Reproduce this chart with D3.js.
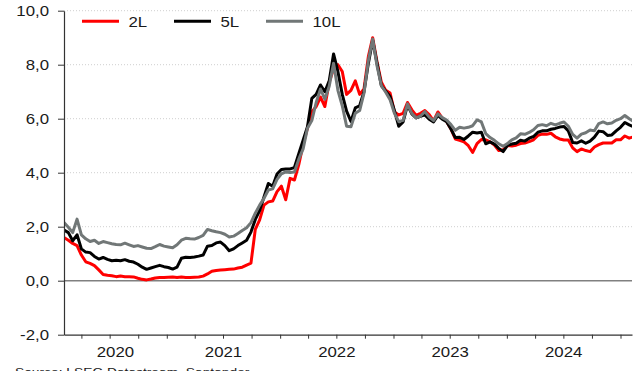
<!DOCTYPE html>
<html>
<head>
<meta charset="utf-8">
<script src="https://cdn.jsdelivr.net/npm/d3@7"></script>
<style>
  body { margin: 0; background: #ffffff; }
  svg { display: block; }
  text { font-family: "Liberation Sans", Arial, sans-serif; fill: #1a1a1a; }
</style>
</head>
<body>
<svg id="chart" width="637" height="371"></svg>
<script>
// Polish government bond yields (%), fortnightly observations
const seriesNames = ["2L", "5L", "10L"];
const seriesColors = ["#ff0000", "#000000", "#717777"];
const firstObs = new Date(2020, 1, 5);
const stepDays = 14;

const y2L = [
  1.60, 1.50, 1.38, 1.30, 0.95, 0.70, 0.64, 0.56, 0.40, 0.23,
  0.20, 0.18, 0.15, 0.17, 0.15, 0.15, 0.14, 0.09, 0.05, 0.03,
  0.06, 0.10, 0.12, 0.12, 0.13, 0.14, 0.12, 0.14, 0.12, 0.12,
  0.13, 0.14, 0.17, 0.25, 0.35, 0.38, 0.40, 0.41, 0.42, 0.43,
  0.47, 0.50, 0.58, 0.65, 1.90, 2.25, 2.80, 2.92, 2.95, 3.30,
  3.50, 3.00, 3.79, 3.73, 4.30, 5.05, 5.65, 6.25, 6.45, 6.80,
  6.45, 7.35, 7.85, 8.00, 7.75, 6.90, 7.05, 7.40, 6.90, 7.10,
  8.30, 9.00, 8.10, 7.35, 7.05, 6.95, 6.25, 6.14, 6.20, 6.60,
  6.33, 6.12, 6.20, 6.30, 6.15, 5.92, 6.25, 6.02, 5.90, 5.62,
  5.25, 5.20, 5.14, 5.00, 4.75, 5.08, 5.23, 5.22, 5.14, 5.02,
  4.82, 4.85, 5.01, 4.99, 5.02, 5.08, 5.10, 5.15, 5.22, 5.38,
  5.43, 5.42, 5.46, 5.33, 5.25, 5.21, 5.21, 4.92, 4.78, 4.88,
  4.82, 4.78, 4.95, 5.04, 5.10, 5.10, 5.10, 5.22, 5.22, 5.36,
  5.28, 5.33
];
const y5L = [
  1.88, 1.78, 1.48, 1.70, 1.18, 1.06, 1.04, 0.90, 0.80, 0.86,
  0.79, 0.74, 0.76, 0.74, 0.78, 0.72, 0.69, 0.61, 0.50, 0.42,
  0.47, 0.52, 0.57, 0.52, 0.49, 0.43, 0.50, 0.83, 0.87, 0.86,
  0.88, 0.91, 0.95, 1.28, 1.30, 1.40, 1.43, 1.30, 1.11, 1.18,
  1.30, 1.40, 1.50, 1.80, 2.27, 2.60, 3.10, 3.60, 3.50, 3.95,
  4.12, 4.14, 4.14, 4.19, 4.70, 5.20, 5.70, 6.75, 6.90, 7.25,
  7.00, 7.40, 8.40, 7.75, 6.90, 6.28, 5.90, 6.40, 6.48, 7.00,
  8.05, 8.90, 8.05, 7.22, 7.02, 6.82, 6.30, 5.72, 5.88, 6.50,
  6.18, 6.03, 6.09, 6.14, 5.98, 5.88, 6.12, 5.98, 5.89, 5.62,
  5.30, 5.31, 5.23, 5.36, 5.50, 5.47, 5.50, 5.07, 5.14, 5.06,
  4.90, 4.78, 5.01, 5.06, 5.09, 5.20, 5.17, 5.28, 5.34, 5.50,
  5.55, 5.55, 5.61, 5.64, 5.69, 5.71, 5.55, 5.12, 5.10, 5.18,
  5.09, 5.17, 5.32, 5.54, 5.52, 5.38, 5.40, 5.55, 5.68, 5.86,
  5.77, 5.70
];
const y10L = [
  2.15, 1.98, 1.78, 2.28, 1.70, 1.55, 1.45, 1.50, 1.38, 1.45,
  1.41, 1.37, 1.34, 1.33, 1.39, 1.33, 1.27, 1.30, 1.25, 1.20,
  1.19, 1.26, 1.34, 1.28, 1.25, 1.22, 1.33, 1.50, 1.57, 1.55,
  1.54, 1.60, 1.68, 1.90, 1.85, 1.81, 1.78, 1.72, 1.62, 1.65,
  1.75, 1.86, 1.96, 2.15, 2.50, 2.80, 3.05, 3.36, 3.40, 3.75,
  3.96, 4.03, 4.01, 4.03, 4.50, 4.88, 5.65, 5.93, 6.60, 7.10,
  6.72, 7.20, 8.05, 7.05, 6.48, 5.72, 5.70, 6.20, 6.30, 6.95,
  8.15, 8.95, 7.95, 7.22, 6.98, 6.70, 6.20, 5.89, 5.94, 6.55,
  6.20, 6.03, 6.10, 6.26, 6.06, 5.93, 6.18, 6.04, 5.95, 5.78,
  5.57, 5.68, 5.65, 5.68, 5.74, 5.96, 5.88, 5.45, 5.30, 5.20,
  5.07, 4.98, 5.08, 5.22, 5.29, 5.44, 5.42, 5.49, 5.59, 5.75,
  5.78, 5.74, 5.83, 5.77, 5.83, 5.88, 5.72, 5.42, 5.28, 5.43,
  5.48, 5.58, 5.55, 5.82, 5.88, 5.81, 5.84, 5.94, 6.00, 6.12,
  6.00, 5.90
];
const yTicks = [-2, 0, 2, 4, 6, 8, 10];
const yearLabels = [2020, 2021, 2022, 2023, 2024];
const sourceText = "Source: LSEG Datastream, Santander";

const svg = d3.select("#chart");
const plot = { left: 64, right: 632, top: 10.7, bottom: 334.7 };
const textScaleX = 1.2;

const x = d3.scaleTime()
  .domain([new Date(2020, 1, 5), new Date(2025, 1, 7)])
  .range([plot.left, plot.right]);
const y = d3.scaleLinear()
  .domain([-2, 10])
  .range([plot.bottom, plot.top]);

const fmt = d => (d < 0 ? "-" : "") + Math.abs(d).toFixed(1).replace(".", ",");

// horizontal grid
svg.append("g")
  .selectAll("line")
  .data(yTicks.filter(v => v > 0))
  .join("line")
  .attr("x1", plot.left).attr("x2", plot.right)
  .attr("y1", d => y(d)).attr("y2", d => y(d))
  .attr("stroke", "#cfcfcf")
  .attr("stroke-width", 1)
  .attr("stroke-dasharray", "1,2");

// zero line
svg.append("line")
  .attr("x1", plot.left).attr("x2", plot.right)
  .attr("y1", y(0)).attr("y2", y(0))
  .attr("stroke", "#808080")
  .attr("stroke-width", 1.5);

// series
const series = [y2L, y5L, y10L].map((vals, k) => ({
  name: seriesNames[k],
  color: seriesColors[k],
  values: vals.map((v, i) => ({ date: d3.timeDay.offset(firstObs, i * stepDays), value: v }))
}));

svg.append("defs").append("clipPath").attr("id", "plot-clip")
  .append("rect")
  .attr("x", plot.left).attr("y", 0)
  .attr("width", plot.right - plot.left).attr("height", plot.bottom);

const line = d3.line()
  .x(d => x(d.date))
  .y(d => y(d.value));

svg.append("g")
  .attr("clip-path", "url(#plot-clip)")
  .selectAll("path")
  .data(series)
  .join("path")
  .attr("d", d => line(d.values))
  .attr("fill", "none")
  .attr("stroke", d => d.color)
  .attr("stroke-width", 3)
  .attr("stroke-linejoin", "round");

// y axis
const yAxis = svg.append("g")
  .attr("transform", `translate(${plot.left},0)`)
  .call(d3.axisLeft(y).tickValues(yTicks).tickSize(6).tickSizeOuter(0).tickFormat(fmt));
yAxis.select(".domain").attr("stroke", "#333").attr("stroke-width", 1.2);
yAxis.selectAll(".tick line").attr("stroke", "#333");
yAxis.selectAll(".tick text")
  .attr("x", -15 / textScaleX)
  .attr("dy", "0.36em")
  .attr("transform", `scale(${textScaleX},1)`)
  .style("font-size", "14px")
  .style("font-family", "'Liberation Sans', Arial, sans-serif")
  .attr("fill", "#1a1a1a");

// x axis with quarterly ticks
const xAxis = svg.append("g")
  .attr("transform", `translate(0,${plot.bottom})`)
  .call(d3.axisBottom(x).ticks(d3.timeMonth.every(3)).tickSize(4).tickSizeOuter(0).tickFormat(""));
xAxis.select(".domain").attr("stroke", "#333").attr("stroke-width", 1.2);
xAxis.selectAll(".tick line").attr("stroke", "#333");

// year labels centred on the visible part of each year
const [d0, d1] = x.domain();
svg.append("g")
  .selectAll("text")
  .data(yearLabels)
  .join("text")
  .attr("transform", yr => {
    const a = x(new Date(Math.max(+new Date(yr, 0, 1), +d0)));
    const b = x(new Date(Math.min(+new Date(yr + 1, 0, 1), +d1)));
    return `translate(${(a + b) / 2},${plot.bottom + 22}) scale(${textScaleX},1)`;
  })
  .attr("text-anchor", "middle")
  .style("font-size", "14px")
  .text(d => d);

// legend
const legendX = [82, 174, 266];
const legend = svg.append("g")
  .selectAll("g")
  .data(series)
  .join("g")
  .attr("transform", (d, i) => `translate(${legendX[i]},21.3)`);
legend.append("line")
  .attr("x1", 0).attr("x2", 37)
  .attr("stroke", d => d.color)
  .attr("stroke-width", 3);
legend.append("text")
  .attr("transform", `translate(46.5,5.2) scale(${textScaleX},1)`)
  .style("font-size", "14px")
  .text(d => d.name);

// source note along the bottom edge
svg.append("text")
  .attr("transform", `translate(15,376) scale(${textScaleX},1)`)
  .style("font-size", "11.5px")
  .text(sourceText);
</script>
</body>
</html>
